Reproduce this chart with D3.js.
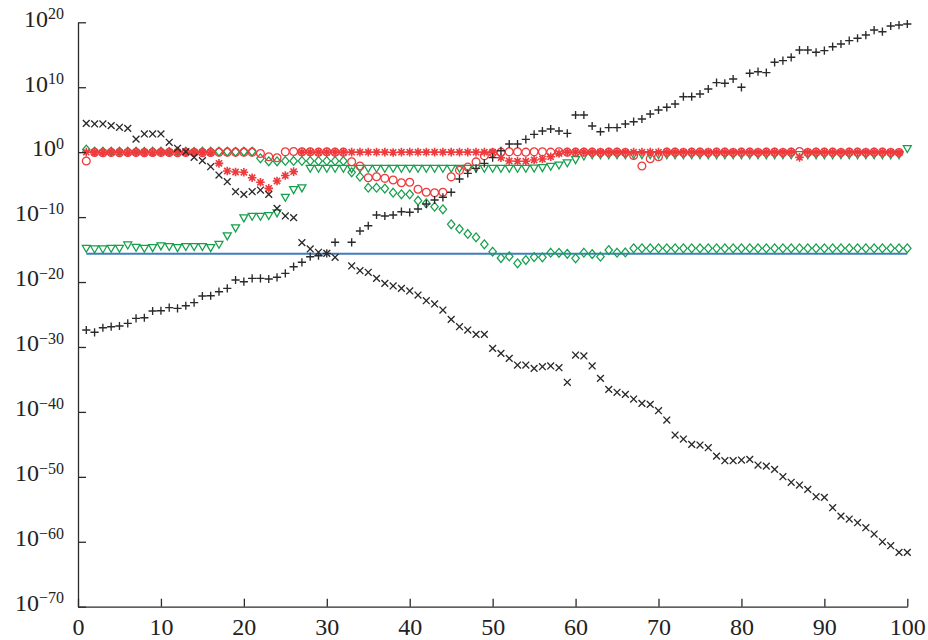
<!DOCTYPE html>
<html><head><meta charset="utf-8">
<script src="https://cdn.jsdelivr.net/npm/d3@7"></script>
<style>
html,body{margin:0;padding:0;background:#fff;}
svg{display:block;}
</style></head>
<body>
<svg id="chart" width="928" height="640"></svg>
<script>
// ---- data (log10 of the plotted values, index = 1..100) ----
const xValues = d3.range(1, 101);
const xTicks = [0,10,20,30,40,50,60,70,80,90,100];
const yTickExps = [20,10,0,-10,-20,-30,-40,-50,-60,-70];

const crossExp = [4.44,4.34,4.34,4.08,3.83,3.67,2.0,2.8,2.8,2.8,
1.52,0.6,0.07,-0.79,-1.3,-2.24,-3.52,-4.55,-6.09,-6.49,
-6.09,-5.83,-6.49,-8.65,-9.83,-10.09,-13.94,-14.91,-15.42,-15.58,
-16.19,null,-17.53,-18.26,-18.5,-19.43,-20.2,-20.61,-20.97,-21.38,
-22.0,-22.88,-23.38,-24.31,-25.74,-26.88,-27.39,-28.05,-28.05,-30.21,
-30.98,-31.75,-32.78,-32.78,-33.29,-33.04,-32.93,-33.2,-35.44,-31.24,
-31.39,-32.93,-34.83,-36.52,-36.98,-37.29,-38.02,-38.68,-38.83,-39.82,
-41.25,-43.56,-44.18,-44.99,-45.1,-45.52,-46.8,-47.52,-47.52,-47.41,
-47.3,-48.18,-48.34,-48.84,-49.98,-50.84,-51.26,-51.92,-53.06,-53.16,
-54.76,-56.04,-56.5,-57.07,-57.84,-58.81,-60.0,-60.61,-61.63,-61.63];

const plusExp = [-27.39,-27.74,-27.04,-26.88,-26.77,-26.36,-25.59,-25.5,-24.46,-24.42,
-23.95,-24.05,-23.65,-23.18,-22.15,-22.11,-21.49,-20.97,-19.69,-19.95,
-19.43,-19.43,-19.53,-19.27,-18.66,-17.64,-16.96,-16.1,-15.95,-15.58,
-13.88,null,-13.88,-12.14,-11.33,-9.68,-9.83,-9.68,-9.17,-9.26,
-8.75,-7.98,-7.37,-6.95,-6.18,-4.13,-3.26,-2.49,-1.72,-0.85,
0.22,1.26,1.26,1.98,2.75,3.26,3.57,3.26,2.9,5.72,
5.72,4.03,3.15,3.77,3.77,4.34,4.69,5.11,5.88,6.49,
6.91,7.42,8.54,8.54,8.96,9.73,10.7,10.61,11.27,9.99,
12.15,12.39,12.24,13.84,14.09,14.61,15.73,15.73,15.38,15.63,
16.24,16.66,17.17,17.54,18.04,18.81,18.55,19.43,19.58,19.74];

const circleExp = [-1.35,-0.05,-0.1,-0.05,-0.1,-0.05,-0.05,-0.1,-0.05,-0.05,
-0.05,-0.1,-0.05,-0.05,-0.1,-0.05,0.0,0.0,0.0,0.0,
0.0,-0.2,-0.7,-0.85,0.05,0.1,0.05,0.05,0.0,0.05,
0.0,0.0,-1.47,-2.13,-3.93,-3.78,-4.03,-4.29,-4.7,-4.64,
-5.72,-6.18,-6.24,-6.18,-3.8,-2.8,-2.3,-1.5,-0.57,-0.1,
0.0,0.05,0.05,0.0,0.05,0.05,0.0,0.05,0.0,0.0,
0.0,0.0,-0.05,0.0,0.0,-0.05,-0.5,-2.13,-1.0,-0.7,
0.0,0.0,-0.05,0.0,0.0,-0.05,0.0,0.0,-0.05,0.0,
0.0,-0.05,0.0,0.0,-0.05,0.0,0.1,-0.05,0.0,0.0,
0.0,-0.05,0.0,0.0,-0.05,0.0,0.0,-0.05,-0.05,null];

const asteriskExp = [0.0,0.0,-0.05,0.0,0.0,-0.05,0.0,0.0,-0.05,0.0,
0.0,0.0,-0.05,0.0,0.0,-0.05,-1.72,-2.9,-3.05,-3.1,
-3.93,-4.64,-5.57,-4.44,-3.6,-3.0,0.0,0.0,0.0,0.0,
0.0,0.0,0.0,0.0,0.0,0.0,0.0,-0.05,0.0,0.0,
0.0,0.0,0.0,0.0,0.0,0.0,0.0,0.0,0.0,0.0,
-0.85,-1.36,-1.4,-1.4,-1.21,-1.05,-0.7,-0.2,0.0,0.0,
0.0,0.0,0.0,0.0,0.0,0.0,0.0,0.0,0.0,0.0,
0.0,0.0,0.0,0.0,0.0,0.0,0.0,0.0,0.0,0.0,
0.0,0.0,0.0,0.0,0.0,0.0,-0.8,0.0,0.0,0.0,
0.0,0.0,0.0,0.0,0.0,0.0,0.0,0.0,-0.05,null];

const diamondExp = [0.4,0.1,0.1,0.1,0.1,0.1,0.1,0.05,0.1,0.1,
0.05,0.1,0.1,0.05,0.1,0.1,0.1,0.1,0.05,0.1,
0.1,-0.95,-1.4,-1.4,-1.35,-1.35,-1.35,-1.35,-1.35,-1.35,
-1.35,-1.35,-3.1,-3.78,-5.47,-5.47,-5.6,-6.24,-6.49,-6.49,
-7.47,-7.88,-8.4,-8.8,-11.11,-11.83,-12.6,-13.11,-14.19,-15.33,
-16.3,-16.05,-17.12,-16.61,-16.15,-16.2,-15.48,-15.5,-15.65,-16.35,
-15.48,-15.7,-16.1,-15.07,-15.48,-15.45,-14.81,-14.81,-14.81,-14.81,
-14.81,-14.81,-14.81,-14.81,-14.81,-14.81,-14.81,-14.81,-14.81,-14.81,
-14.81,-14.81,-14.81,-14.81,-14.81,-14.81,-14.81,-14.81,-14.81,-14.81,
-14.81,-14.81,-14.81,-14.81,-14.81,-14.81,-14.81,-14.81,-14.81,-14.81];

const triangleExp = [-14.87,-14.97,-14.97,-14.87,-14.87,-14.35,-14.71,-14.87,-14.77,-14.5,
-14.6,-14.77,-14.6,-14.6,-14.6,-14.77,-14.25,-12.96,-11.73,-10.19,
-9.94,-9.94,-9.83,-9.42,-7.01,-5.83,-5.57,-2.55,-2.55,-2.55,
-2.55,-2.55,-2.6,-2.55,-2.55,-2.55,-2.55,-2.55,-2.55,-2.55,
-2.55,-2.55,-2.55,-2.55,-2.55,-2.55,-2.55,-2.55,-2.55,-2.55,
-2.55,-2.55,-2.55,-2.55,-2.5,-2.45,-2.24,-2.05,-1.7,-1.21,
-0.65,-0.45,-0.45,-0.45,-0.45,-0.45,-0.45,-0.45,-0.45,-0.45,
-0.45,-0.45,-0.45,-0.45,-0.45,-0.45,-0.45,-0.45,-0.45,-0.45,
-0.45,-0.45,-0.45,-0.45,-0.45,-0.45,-0.45,-0.45,-0.45,-0.45,
-0.45,-0.45,-0.45,-0.45,-0.45,-0.45,-0.45,-0.45,-0.45,0.5];

const epsLineX = [1, 100];
const epsLineY = [2.22e-16, 2.22e-16];

// ---- layout ----
const svg = d3.select("#chart");
const x = d3.scaleLinear().domain([0, 100]).range([78, 907.3]);
const y = d3.scaleLog().domain([1e-70, 1e20]).range([606.7, 22.3]);
const FONT = "'Liberation Serif','Times New Roman',Times,serif";
const AXIS = "#2b2b2b";

// eps line
svg.append("path")
  .datum(epsLineX.map((d, i) => [d, epsLineY[i]]))
  .attr("fill", "none").attr("stroke", "#3f7dbd").attr("stroke-width", 2)
  .attr("d", d3.line().x(d => x(d[0])).y(d => y(d[1])));

// marker shapes
const shapes = {
  diamond: "M0,-4.4L3.7,0L0,4.4L-3.7,0Z",
  triangle: "M-4,-3.4L4,-3.4L0,3.6Z",
  circle: "M3.9,0A3.9,3.9 0 1 1 -3.9,0A3.9,3.9 0 1 1 3.9,0Z",
  asterisk: "M-4.3,0H4.3M0,-4.3V4.3M-3.1,-3.1L3.1,3.1M-3.1,3.1L3.1,-3.1",
  plus: "M-4.1,0H4.1M0,-4.1V4.1",
  cross: "M-3.4,-3.4L3.4,3.4M-3.4,3.4L3.4,-3.4"
};

const series = [
  {exp: diamondExp, shape: "diamond", color: "#14a04c", w: 1.25},
  {exp: triangleExp, shape: "triangle", color: "#14a04c", w: 1.25},
  {exp: circleExp, shape: "circle", color: "#ee3a3c", w: 1.3},
  {exp: asteriskExp, shape: "asterisk", color: "#ee3a3c", w: 1.6},
  {exp: plusExp, shape: "plus", color: "#2a2a2a", w: 1.35},
  {exp: crossExp, shape: "cross", color: "#2a2a2a", w: 1.35}
];

series.forEach(s => {
  const pts = xValues.map((xv, i) => ({x: xv, v: s.exp[i]})).filter(p => p.v !== null);
  svg.append("g").selectAll("path").data(pts).join("path")
    .attr("transform", p => `translate(${x(p.x)},${y(Math.pow(10, p.v))})`)
    .attr("d", shapes[s.shape])
    .attr("fill", "none")
    .attr("stroke", s.color)
    .attr("stroke-width", s.w);
});

// axes
const xAxis = d3.axisBottom(x).tickValues(xTicks).tickSize(-8).tickPadding(11).tickSizeOuter(0);
const gx = svg.append("g").attr("transform", "translate(0,606.7)").call(xAxis);
gx.attr("font-family", FONT);
gx.select(".domain").attr("stroke", AXIS).attr("stroke-width", 1.3);
gx.selectAll(".tick line").attr("stroke", AXIS).attr("stroke-width", 1.3);
gx.selectAll(".tick text").attr("fill", "#222").attr("font-family", FONT).attr("font-size", 24);

const yAxis = d3.axisLeft(y).tickValues(yTickExps.map(e => Math.pow(10, e)))
  .tickSize(-8).tickPadding(14).tickSizeOuter(0).tickFormat(() => "");
const gy = svg.append("g").attr("transform", "translate(78,0)").call(yAxis);
gy.attr("font-family", FONT);
gy.select(".domain").attr("stroke", AXIS).attr("stroke-width", 1.3);
gy.selectAll(".tick line").attr("stroke", AXIS).attr("stroke-width", 1.3);
gy.selectAll(".tick text").each(function(d, i) {
  const t = d3.select(this).attr("fill", "#222").attr("font-family", FONT).attr("dy", "0.38em");
  const e = yTickExps[i];
  t.append("tspan").attr("font-size", 24).text("10");
  t.append("tspan").attr("font-size", 16).attr("dy", "-0.47em")
    .text(e < 0 ? "\u2212" + Math.abs(e) : String(e));
});
</script>
</body></html>
